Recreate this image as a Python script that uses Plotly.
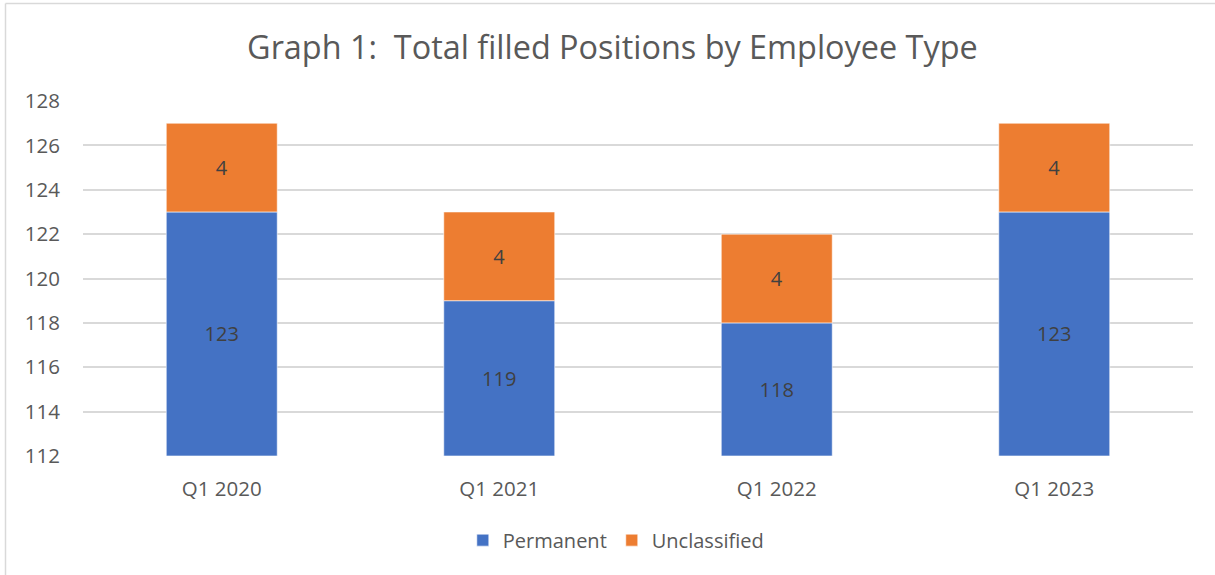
import plotly.graph_objects as go

categories = ["Q1 2020", "Q1 2021", "Q1 2022", "Q1 2023"]
permanent = [123, 119, 118, 123]
unclassified = [4, 4, 4, 4]
y_ticks = [112, 114, 116, 118, 120, 122, 124, 126, 128]

AXIS_MIN, AXIS_MAX = 112, 128
FONT = "Open Sans, Liberation Sans, sans-serif"

fig = go.Figure()
fig.add_trace(go.Bar(
    name="Permanent", x=categories,
    y=[v - AXIS_MIN for v in permanent], base=[AXIS_MIN] * len(permanent),
    text=[str(v) for v in permanent], textposition="inside", insidetextanchor="middle",
    textfont=dict(color="#404040", size=20, family=FONT),
    marker=dict(color="#4472C4", line=dict(color="#ffffff", width=0.6)),
))
fig.add_trace(go.Bar(
    name="Unclassified", x=categories,
    y=unclassified, base=permanent,
    text=[str(v) for v in unclassified], textposition="inside", insidetextanchor="middle",
    textfont=dict(color="#404040", size=20, family=FONT),
    marker=dict(color="#ED7D31", line=dict(color="#ffffff", width=0.6)),
))

fig.update_layout(
    width=1215, height=575,
    barmode="overlay", bargap=0.6,
    paper_bgcolor="white", plot_bgcolor="white",
    margin=dict(l=83, r=22, t=101, b=119),
    title=dict(text="Graph 1:\u00a0 Total filled Positions by Employee Type",
               x=0.504, xanchor="center", y=1 - 48 / 575, yanchor="middle",
               font=dict(size=32.4, color="#595959", family=FONT)),
    font=dict(family=FONT, color="#595959"),
    showlegend=True,
    legend=dict(orientation="h", x=0.48, xanchor="center", y=-0.237, yanchor="middle",
                font=dict(size=20, color="#595959"), itemwidth=30,
                traceorder="normal"),
    uniformtext=dict(mode="show", minsize=10),
    shapes=[
        dict(type="line", xref="paper", yref="paper",
             x0=(5.5 - 83) / 1110, x1=(5.5 - 83) / 1110, y0=(456 - 3.5) / 355, y1=(456 - 580) / 355,
             line=dict(color="#d9d9d9", width=1.5)),
        dict(type="line", xref="paper", yref="paper",
             x0=(5.5 - 83) / 1110, x1=(1220 - 83) / 1110, y0=(456 - 3.5) / 355, y1=(456 - 3.5) / 355,
             line=dict(color="#d9d9d9", width=1.5)),
    ],
)
fig.update_xaxes(showgrid=False, showline=False, ticks="", tickfont=dict(size=20.5, color="#595959"),
                 ticklabelstandoff=18)
fig.update_yaxes(range=[AXIS_MIN, AXIS_MAX], tickvals=y_ticks, showgrid=True,
                 gridcolor="#d9d9d9", gridwidth=1.5, zeroline=False, showline=False,
                 tickfont=dict(size=20.5, color="#595959"), ticklabelstandoff=22)

fig.write_html("out.html", config={"displayModeBar": False},
               post_script="document.body.style.margin='0';")
